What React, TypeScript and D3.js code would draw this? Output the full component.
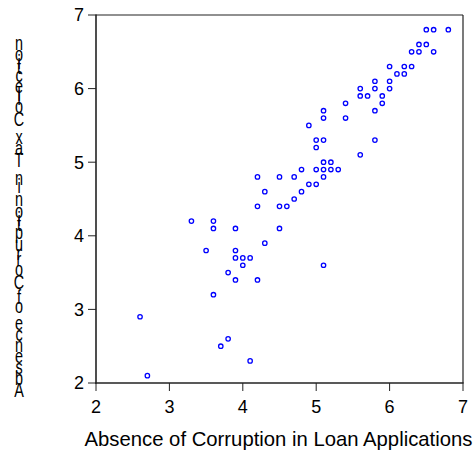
import React from "react";
import * as d3 from "d3";

const xValues: number[] = [
  6.5, 6.6, 6.8, 6.4, 6.5, 6.3, 6.4, 6.6, 6.0, 6.2, 6.3, 6.1, 6.2, 5.8, 6.0,
  5.6, 5.8, 6.0, 5.6, 5.7, 5.9, 5.4, 5.9, 5.1, 5.8, 5.1, 5.4, 4.9, 5.0, 5.1,
  5.8, 5.0, 5.6, 5.1, 5.2, 4.8, 5.0, 5.1, 5.2, 5.3, 4.2, 4.5, 4.7, 5.1, 4.9,
  5.0, 4.3, 4.8, 4.7, 4.2, 4.5, 4.6, 3.3, 3.6, 3.6, 3.9, 4.5, 4.3, 3.5, 3.9,
  3.9, 4.0, 4.1, 4.0, 5.1, 3.8, 3.9, 4.2, 3.6, 2.6, 3.8, 3.7, 4.1, 2.7,
];
const yValues: number[] = [
  6.8, 6.8, 6.8, 6.6, 6.6, 6.5, 6.5, 6.5, 6.3, 6.3, 6.3, 6.2, 6.2, 6.1, 6.1,
  6.0, 6.0, 6.0, 5.9, 5.9, 5.9, 5.8, 5.8, 5.7, 5.7, 5.6, 5.6, 5.5, 5.3, 5.3,
  5.3, 5.2, 5.1, 5.0, 5.0, 4.9, 4.9, 4.9, 4.9, 4.9, 4.8, 4.8, 4.8, 4.8, 4.7,
  4.7, 4.6, 4.6, 4.5, 4.4, 4.4, 4.4, 4.2, 4.2, 4.1, 4.1, 4.1, 3.9, 3.8, 3.8,
  3.7, 3.7, 3.7, 3.6, 3.6, 3.5, 3.4, 3.4, 3.2, 2.9, 2.6, 2.5, 2.3, 2.1,
];
const xTicks: number[] = [2, 3, 4, 5, 6, 7];
const yTicks: number[] = [2, 3, 4, 5, 6, 7];
const xTitle = "Absence of Corruption in Loan Applications";
const yTitle = "Absence of Corruption in Tax Collection";

const W = 475;
const H = 454;
const FONT = '"Liberation Sans", Arial, sans-serif';

function measureChars(text: string, font: string): number[] {
  const canvas = document.createElement("canvas");
  const ctx = canvas.getContext("2d");
  if (!ctx) return text.split("").map(() => 10);
  ctx.font = font;
  return text.split("").map((c) => ctx.measureText(c).width);
}

export default function App() {
  const x = d3.scaleLinear().domain([2, 7]).range([96, 463]);
  const y = d3.scaleLinear().domain([2, 7]).range([383, 15]);

  const yFontSize = 20;
  const sx = 0.72;
  const widths = measureChars(yTitle, `${yFontSize}px ${FONT}`);
  const total = d3.sum(widths);
  const bottom = 397;
  const scale = 360 / total;
  let acc = 0;
  const glyphs = yTitle.split("").map((c, i) => {
    const w = widths[i] * scale;
    const mid = bottom - acc - w / 2;
    acc += w;
    return { c, mid };
  });

  const pts = xValues.map((v, i) => ({ x: v, y: yValues[i] }));

  return (
    <svg
      width={W}
      height={H}
      style={{ position: "absolute", left: 0, top: 0, background: "#fff" }}
    >
      <rect x={0} y={0} width={W} height={H} fill="#fff" />
      {/* frame */}
      <line x1={x(2)} x2={x(7)} y1={y(7)} y2={y(7)} stroke="#222" strokeWidth={1.2} />
      <line x1={x(7)} x2={x(7)} y1={y(7)} y2={y(2)} stroke="#222" strokeWidth={1.2} />
      <line x1={x(2)} x2={x(2)} y1={y(7) - 0.6} y2={y(2) + 0.8} stroke="#222" strokeWidth={1.6} />
      <line x1={x(2) - 0.8} x2={x(7) + 0.6} y1={y(2)} y2={y(2)} stroke="#222" strokeWidth={1.6} />
      {/* y ticks */}
      {yTicks.map((t) => (
        <g key={"y" + t}>
          <line x1={x(2) - 8} x2={x(2)} y1={y(t)} y2={y(t)} stroke="#222" strokeWidth={1} />
          <text
            x={x(2) - 12}
            y={y(t)}
            dy="0.36em"
            textAnchor="end"
            fontFamily={FONT}
            fontSize={18}
            fill="#000"
          >
            {t}
          </text>
        </g>
      ))}
      {/* x ticks */}
      {xTicks.map((t) => (
        <g key={"x" + t}>
          <line x1={x(t)} x2={x(t)} y1={y(2)} y2={y(2) + 8} stroke="#222" strokeWidth={1} />
          <text
            x={x(t)}
            y={413}
            textAnchor="middle"
            fontFamily={FONT}
            fontSize={18}
            fill="#000"
          >
            {t}
          </text>
        </g>
      ))}
      {/* points */}
      {pts.map((p, i) => (
        <circle
          key={i}
          cx={x(p.x)}
          cy={y(p.y)}
          r={2.2}
          fill="none"
          stroke="#0000ff"
          strokeWidth={1.3}
        />
      ))}
      {/* x title */}
      <text
        x={(85 + 472) / 2}
        y={446}
        textAnchor="middle"
        fontFamily={FONT}
        fontSize={20.3}
        fill="#000"
      >
        {xTitle}
      </text>
      {/* y title: stacked upright glyphs, reading bottom to top, one text element */}
      <text
        transform={`scale(${sx},1)`}
        textAnchor="middle"
        dominantBaseline="central"
        fontFamily={FONT}
        fontSize={yFontSize}
        fill="#000"
      >
        {glyphs.map((g, i) => (
          <tspan key={i} x={19 / sx} y={g.mid}>
            {g.c === " " ? "\u00a0" : g.c}
          </tspan>
        ))}
      </text>
    </svg>
  );
}
